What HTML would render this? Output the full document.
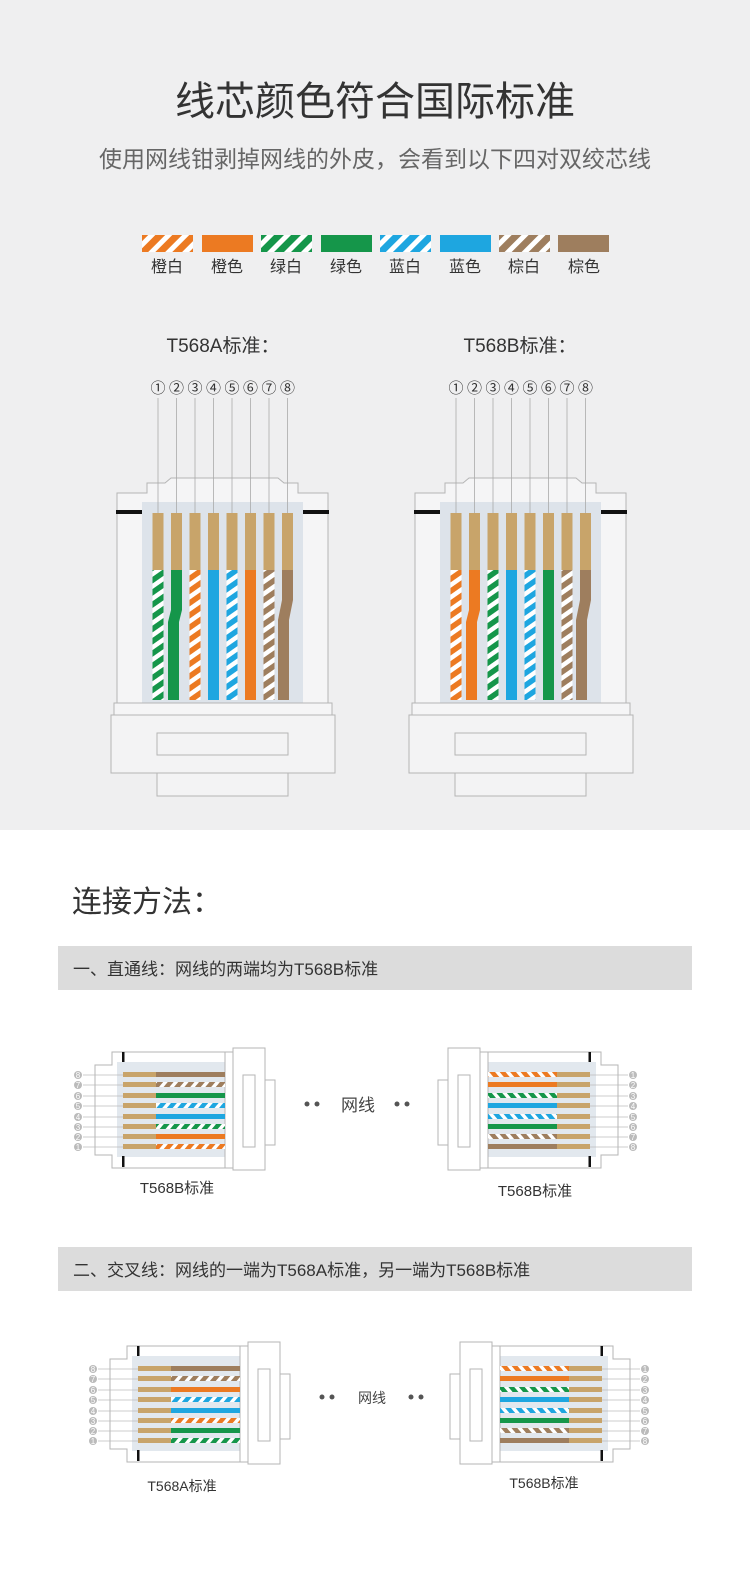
<!DOCTYPE html>
<html><head><meta charset="utf-8"><style>
body{margin:0;width:750px;height:1569px;background:#fff;font-family:"Liberation Sans","Noto Sans CJK SC",sans-serif;overflow:hidden}
svg{display:block}
</style></head><body>
<svg width="750" height="1569" viewBox="0 0 750 1569" xmlns="http://www.w3.org/2000/svg" font-family="Liberation Sans, Noto Sans CJK SC, sans-serif">
<defs>
<pattern id="pO" width="8" height="8" patternUnits="userSpaceOnUse" patternTransform="rotate(40)"><rect width="8" height="8" fill="#fff"/><rect width="4.5" height="8" fill="#ec7a22"/></pattern>
<pattern id="pG" width="8" height="8" patternUnits="userSpaceOnUse" patternTransform="rotate(40)"><rect width="8" height="8" fill="#fff"/><rect width="4.5" height="8" fill="#15964a"/></pattern>
<pattern id="pB" width="8" height="8" patternUnits="userSpaceOnUse" patternTransform="rotate(40)"><rect width="8" height="8" fill="#fff"/><rect width="4.5" height="8" fill="#1ea6e0"/></pattern>
<pattern id="pR" width="8" height="8" patternUnits="userSpaceOnUse" patternTransform="rotate(40)"><rect width="8" height="8" fill="#fff"/><rect width="4.5" height="8" fill="#9e7e5e"/></pattern>
<pattern id="vO" width="10" height="10" patternUnits="userSpaceOnUse" patternTransform="rotate(55)"><rect width="10" height="10" fill="#fff"/><rect width="5.5" height="10" fill="#ec7a22"/></pattern>
<pattern id="vG" width="10" height="10" patternUnits="userSpaceOnUse" patternTransform="rotate(55)"><rect width="10" height="10" fill="#fff"/><rect width="5.5" height="10" fill="#15964a"/></pattern>
<pattern id="vB" width="10" height="10" patternUnits="userSpaceOnUse" patternTransform="rotate(55)"><rect width="10" height="10" fill="#fff"/><rect width="5.5" height="10" fill="#1ea6e0"/></pattern>
<pattern id="vR" width="10" height="10" patternUnits="userSpaceOnUse" patternTransform="rotate(55)"><rect width="10" height="10" fill="#fff"/><rect width="5.5" height="10" fill="#9e7e5e"/></pattern>
<pattern id="lO" width="12" height="12" patternUnits="userSpaceOnUse" patternTransform="rotate(45)"><rect width="12" height="12" fill="#fff"/><rect width="7" height="12" fill="#ec7a22"/></pattern>
<pattern id="lG" width="12" height="12" patternUnits="userSpaceOnUse" patternTransform="rotate(45)"><rect width="12" height="12" fill="#fff"/><rect width="7" height="12" fill="#15964a"/></pattern>
<pattern id="lB" width="12" height="12" patternUnits="userSpaceOnUse" patternTransform="rotate(45)"><rect width="12" height="12" fill="#fff"/><rect width="7" height="12" fill="#1ea6e0"/></pattern>
<pattern id="lR" width="12" height="12" patternUnits="userSpaceOnUse" patternTransform="rotate(45)"><rect width="12" height="12" fill="#fff"/><rect width="7" height="12" fill="#9e7e5e"/></pattern>
<g id="big">
<path d="M6,493 H36 V483 H54 L60,478 H167 L173,483 H187 V493 H217 V705 H6 Z" fill="#f5f5f6" stroke="#b5b5b5" stroke-width="1"/>
<rect x="31" y="502" width="161" height="203" fill="#dde3ea"/>
<rect x="5" y="510" width="26" height="4" fill="#111"/>
<rect x="192" y="510" width="26" height="4" fill="#111"/>
<rect x="3" y="703" width="218" height="12" fill="#f5f5f6" stroke="#b5b5b5"/>
<rect x="0" y="715" width="224" height="58" fill="#f3f3f4" stroke="#b5b5b5"/>
<rect x="46" y="733" width="131" height="22" fill="#f3f3f4" stroke="#b5b5b5"/>
<rect x="46" y="773" width="131" height="23" fill="#f3f3f4" stroke="#b5b5b5"/>
</g>
<g id="small">
<path d="M112,1052 H225 V1168 H112 V1155 H95 V1065 H112 Z" fill="#fff" stroke="#b5b5b5"/>
<rect x="117" y="1062" width="108" height="95" fill="#e2e8ee"/>
<rect x="122" y="1052" width="2.5" height="10" fill="#111"/>
<rect x="122" y="1156" width="2.5" height="11" fill="#111"/>
<rect x="225" y="1052" width="8" height="116" fill="#fff" stroke="#b5b5b5"/>
<rect x="233" y="1048" width="32" height="122" fill="#fff" stroke="#b5b5b5"/>
<rect x="243" y="1075" width="12" height="72" fill="#fff" stroke="#b5b5b5"/>
<rect x="265" y="1080" width="10" height="65" fill="#fff" stroke="#b5b5b5"/>
<g fill="#c8a46a"><rect x="123" y="1072" width="33" height="5"/><rect x="123" y="1082" width="33" height="5"/><rect x="123" y="1093" width="33" height="5"/><rect x="123" y="1103" width="33" height="5"/><rect x="123" y="1114" width="33" height="5"/><rect x="123" y="1124" width="33" height="5"/><rect x="123" y="1134" width="33" height="5"/><rect x="123" y="1144" width="33" height="5"/></g>
</g>
</defs>

<rect x="0" y="0" width="750" height="830" fill="#efeff0"/>
<text x="375" y="115" font-size="40" text-anchor="middle" fill="#333">线芯颜色符合国际标准</text>
<text x="375" y="167" font-size="23" text-anchor="middle" fill="#666">使用网线钳剥掉网线的外皮，会看到以下四对双绞芯线</text>

<g>
<rect x="142" y="235" width="51" height="17" fill="url(#lO)"/>
<rect x="202" y="235" width="51" height="17" fill="#ec7a22"/>
<rect x="261" y="235" width="51" height="17" fill="url(#lG)"/>
<rect x="321" y="235" width="51" height="17" fill="#15964a"/>
<rect x="380" y="235" width="51" height="17" fill="url(#lB)"/>
<rect x="440" y="235" width="51" height="17" fill="#1ea6e0"/>
<rect x="499" y="235" width="51" height="17" fill="url(#lR)"/>
<rect x="558" y="235" width="51" height="17" fill="#9e7e5e"/>
</g>
<g font-size="16" fill="#333" text-anchor="middle">
<text x="167" y="272">橙白</text><text x="227" y="272">橙色</text><text x="286" y="272">绿白</text><text x="346" y="272">绿色</text><text x="405" y="272">蓝白</text><text x="465" y="272">蓝色</text><text x="524" y="272">棕白</text><text x="584" y="272">棕色</text>
</g>

<text x="223" y="352" font-size="19" text-anchor="middle" fill="#333">T568A标准：</text>
<text x="520" y="352" font-size="19" text-anchor="middle" fill="#333">T568B标准：</text>

<use href="#big" transform="translate(111,0)"/>
<use href="#big" transform="translate(409,0)"/>
<g font-size="15" fill="#333" text-anchor="middle">
<text x="158" y="393">①</text><text x="176.5" y="393">②</text><text x="195" y="393">③</text><text x="213.5" y="393">④</text><text x="232" y="393">⑤</text><text x="250.5" y="393">⑥</text><text x="269" y="393">⑦</text><text x="287.5" y="393">⑧</text>
<text x="456" y="393">①</text><text x="474.5" y="393">②</text><text x="493" y="393">③</text><text x="511.5" y="393">④</text><text x="530" y="393">⑤</text><text x="548.5" y="393">⑥</text><text x="567" y="393">⑦</text><text x="585.5" y="393">⑧</text>
</g>
<g stroke="#aaa" stroke-width="0.8">
<line x1="158" y1="398" x2="158" y2="513"/><line x1="176.5" y1="398" x2="176.5" y2="513"/><line x1="195" y1="398" x2="195" y2="513"/><line x1="213.5" y1="398" x2="213.5" y2="513"/><line x1="232" y1="398" x2="232" y2="513"/><line x1="250.5" y1="398" x2="250.5" y2="513"/><line x1="269" y1="398" x2="269" y2="513"/><line x1="287.5" y1="398" x2="287.5" y2="513"/>
<line x1="456" y1="398" x2="456" y2="513"/><line x1="474.5" y1="398" x2="474.5" y2="513"/><line x1="493" y1="398" x2="493" y2="513"/><line x1="511.5" y1="398" x2="511.5" y2="513"/><line x1="530" y1="398" x2="530" y2="513"/><line x1="548.5" y1="398" x2="548.5" y2="513"/><line x1="567" y1="398" x2="567" y2="513"/><line x1="585.5" y1="398" x2="585.5" y2="513"/>
</g>
<g fill="#c8a46a">
<rect x="152.5" y="513" width="11" height="57"/><rect x="171" y="513" width="11" height="57"/><rect x="189.5" y="513" width="11" height="57"/><rect x="208" y="513" width="11" height="57"/><rect x="226.5" y="513" width="11" height="57"/><rect x="245" y="513" width="11" height="57"/><rect x="263.5" y="513" width="11" height="57"/><rect x="282" y="513" width="11" height="57"/>
<rect x="450.5" y="513" width="11" height="57"/><rect x="469" y="513" width="11" height="57"/><rect x="487.5" y="513" width="11" height="57"/><rect x="506" y="513" width="11" height="57"/><rect x="524.5" y="513" width="11" height="57"/><rect x="543" y="513" width="11" height="57"/><rect x="561.5" y="513" width="11" height="57"/><rect x="580" y="513" width="11" height="57"/>
</g>
<g>
<rect x="152.5" y="570" width="11" height="130" fill="url(#vG)"/>
<path d="M171,570 h11 v40 l-3,12 v78 h-11 v-78 l3,-12 Z" fill="#15964a"/>
<rect x="189.5" y="570" width="11" height="130" fill="url(#vO)"/>
<rect x="208" y="570" width="11" height="130" fill="#1ea6e0"/>
<rect x="226.5" y="570" width="11" height="130" fill="url(#vB)"/>
<rect x="245" y="570" width="11" height="130" fill="#ec7a22"/>
<rect x="263.5" y="570" width="11" height="130" fill="url(#vR)"/>
<path d="M282,570 h11 v30 l-4,20 v80 h-11 v-80 l4,-20 Z" fill="#9e7e5e"/>

<rect x="450.5" y="570" width="11" height="130" fill="url(#vO)"/>
<path d="M469,570 h11 v40 l-3,12 v78 h-11 v-78 l3,-12 Z" fill="#ec7a22"/>
<rect x="487.5" y="570" width="11" height="130" fill="url(#vG)"/>
<rect x="506" y="570" width="11" height="130" fill="#1ea6e0"/>
<rect x="524.5" y="570" width="11" height="130" fill="url(#vB)"/>
<rect x="543" y="570" width="11" height="130" fill="#15964a"/>
<rect x="561.5" y="570" width="11" height="130" fill="url(#vR)"/>
<path d="M580,570 h11 v30 l-4,20 v80 h-11 v-80 l4,-20 Z" fill="#9e7e5e"/>
</g>

<text x="72" y="912" font-size="30" fill="#333">连接方法：</text>
<rect x="58" y="946" width="634" height="44" fill="#dcdcdc"/>
<text x="73" y="975" font-size="17" fill="#333">一、直通线：网线的两端均为T568B标准</text>
<rect x="58" y="1247" width="634" height="44" fill="#dcdcdc"/>
<text x="73" y="1276" font-size="17" fill="#333">二、交叉线：网线的一端为T568A标准，另一端为T568B标准</text>

<g>
<use href="#small"/>
<rect x="156" y="1072" width="69" height="5" fill="#9e7e5e"/>
<rect x="156" y="1082" width="69" height="5" fill="url(#pR)"/>
<rect x="156" y="1093" width="69" height="5" fill="#15964a"/>
<rect x="156" y="1103" width="69" height="5" fill="url(#pB)"/>
<rect x="156" y="1114" width="69" height="5" fill="#1ea6e0"/>
<rect x="156" y="1124" width="69" height="5" fill="url(#pG)"/>
<rect x="156" y="1134" width="69" height="5" fill="#ec7a22"/>
<rect x="156" y="1144" width="69" height="5" fill="url(#pO)"/>
</g>
<g transform="translate(713,0) scale(-1,1)">
<use href="#small"/>
<rect x="156" y="1072" width="69" height="5" fill="url(#pO)"/>
<rect x="156" y="1082" width="69" height="5" fill="#ec7a22"/>
<rect x="156" y="1093" width="69" height="5" fill="url(#pG)"/>
<rect x="156" y="1103" width="69" height="5" fill="#1ea6e0"/>
<rect x="156" y="1114" width="69" height="5" fill="url(#pB)"/>
<rect x="156" y="1124" width="69" height="5" fill="#15964a"/>
<rect x="156" y="1134" width="69" height="5" fill="url(#pR)"/>
<rect x="156" y="1144" width="69" height="5" fill="#9e7e5e"/>
</g>
<g transform="translate(15,294)">
<use href="#small"/>
<rect x="156" y="1072" width="69" height="5" fill="#9e7e5e"/>
<rect x="156" y="1082" width="69" height="5" fill="url(#pR)"/>
<rect x="156" y="1093" width="69" height="5" fill="#ec7a22"/>
<rect x="156" y="1103" width="69" height="5" fill="url(#pB)"/>
<rect x="156" y="1114" width="69" height="5" fill="#1ea6e0"/>
<rect x="156" y="1124" width="69" height="5" fill="url(#pO)"/>
<rect x="156" y="1134" width="69" height="5" fill="#15964a"/>
<rect x="156" y="1144" width="69" height="5" fill="url(#pG)"/>
</g>
<g transform="translate(725,294) scale(-1,1)">
<use href="#small"/>
<rect x="156" y="1072" width="69" height="5" fill="url(#pO)"/>
<rect x="156" y="1082" width="69" height="5" fill="#ec7a22"/>
<rect x="156" y="1093" width="69" height="5" fill="url(#pG)"/>
<rect x="156" y="1103" width="69" height="5" fill="#1ea6e0"/>
<rect x="156" y="1114" width="69" height="5" fill="url(#pB)"/>
<rect x="156" y="1124" width="69" height="5" fill="#15964a"/>
<rect x="156" y="1134" width="69" height="5" fill="url(#pR)"/>
<rect x="156" y="1144" width="69" height="5" fill="#9e7e5e"/>
</g>

<g font-size="8" fill="#fff" text-anchor="middle">
<g fill="#bbb">
<circle cx="78" cy="1075" r="4"/><circle cx="78" cy="1085" r="4"/><circle cx="78" cy="1096" r="4"/><circle cx="78" cy="1106" r="4"/><circle cx="78" cy="1117" r="4"/><circle cx="78" cy="1127" r="4"/><circle cx="78" cy="1137" r="4"/><circle cx="78" cy="1147" r="4"/>
<circle cx="633" cy="1075" r="4"/><circle cx="633" cy="1085" r="4"/><circle cx="633" cy="1096" r="4"/><circle cx="633" cy="1106" r="4"/><circle cx="633" cy="1117" r="4"/><circle cx="633" cy="1127" r="4"/><circle cx="633" cy="1137" r="4"/><circle cx="633" cy="1147" r="4"/>
<circle cx="93" cy="1369" r="4"/><circle cx="93" cy="1379" r="4"/><circle cx="93" cy="1390" r="4"/><circle cx="93" cy="1400" r="4"/><circle cx="93" cy="1411" r="4"/><circle cx="93" cy="1421" r="4"/><circle cx="93" cy="1431" r="4"/><circle cx="93" cy="1441" r="4"/>
<circle cx="645" cy="1369" r="4"/><circle cx="645" cy="1379" r="4"/><circle cx="645" cy="1390" r="4"/><circle cx="645" cy="1400" r="4"/><circle cx="645" cy="1411" r="4"/><circle cx="645" cy="1421" r="4"/><circle cx="645" cy="1431" r="4"/><circle cx="645" cy="1441" r="4"/>
</g>
<text x="78" y="1078">8</text><text x="78" y="1088">7</text><text x="78" y="1099">6</text><text x="78" y="1109">5</text><text x="78" y="1120">4</text><text x="78" y="1130">3</text><text x="78" y="1140">2</text><text x="78" y="1150">1</text>
<text x="633" y="1078">1</text><text x="633" y="1088">2</text><text x="633" y="1099">3</text><text x="633" y="1109">4</text><text x="633" y="1120">5</text><text x="633" y="1130">6</text><text x="633" y="1140">7</text><text x="633" y="1150">8</text>
<text x="93" y="1372">8</text><text x="93" y="1382">7</text><text x="93" y="1393">6</text><text x="93" y="1403">5</text><text x="93" y="1414">4</text><text x="93" y="1424">3</text><text x="93" y="1434">2</text><text x="93" y="1444">1</text>
<text x="645" y="1372">1</text><text x="645" y="1382">2</text><text x="645" y="1393">3</text><text x="645" y="1403">4</text><text x="645" y="1414">5</text><text x="645" y="1424">6</text><text x="645" y="1434">7</text><text x="645" y="1444">8</text>
</g>
<g stroke="#bbb" stroke-width="0.7">
<line x1="83" y1="1075" x2="123" y2="1075"/><line x1="83" y1="1085" x2="123" y2="1085"/><line x1="83" y1="1096" x2="123" y2="1096"/><line x1="83" y1="1106" x2="123" y2="1106"/><line x1="83" y1="1117" x2="123" y2="1117"/><line x1="83" y1="1127" x2="123" y2="1127"/><line x1="83" y1="1137" x2="123" y2="1137"/><line x1="83" y1="1147" x2="123" y2="1147"/>
<line x1="590" y1="1075" x2="628" y2="1075"/><line x1="590" y1="1085" x2="628" y2="1085"/><line x1="590" y1="1096" x2="628" y2="1096"/><line x1="590" y1="1106" x2="628" y2="1106"/><line x1="590" y1="1117" x2="628" y2="1117"/><line x1="590" y1="1127" x2="628" y2="1127"/><line x1="590" y1="1137" x2="628" y2="1137"/><line x1="590" y1="1147" x2="628" y2="1147"/>
<line x1="98" y1="1369" x2="138" y2="1369"/><line x1="98" y1="1379" x2="138" y2="1379"/><line x1="98" y1="1390" x2="138" y2="1390"/><line x1="98" y1="1400" x2="138" y2="1400"/><line x1="98" y1="1411" x2="138" y2="1411"/><line x1="98" y1="1421" x2="138" y2="1421"/><line x1="98" y1="1431" x2="138" y2="1431"/><line x1="98" y1="1441" x2="138" y2="1441"/>
<line x1="602" y1="1369" x2="640" y2="1369"/><line x1="602" y1="1379" x2="640" y2="1379"/><line x1="602" y1="1390" x2="640" y2="1390"/><line x1="602" y1="1400" x2="640" y2="1400"/><line x1="602" y1="1411" x2="640" y2="1411"/><line x1="602" y1="1421" x2="640" y2="1421"/><line x1="602" y1="1431" x2="640" y2="1431"/><line x1="602" y1="1441" x2="640" y2="1441"/>
</g>

<g fill="#555">
<circle cx="307" cy="1104" r="2.5"/><circle cx="317" cy="1104" r="2.5"/><circle cx="397" cy="1104" r="2.5"/><circle cx="407" cy="1104" r="2.5"/>
<circle cx="322" cy="1397" r="2.5"/><circle cx="332" cy="1397" r="2.5"/><circle cx="411" cy="1397" r="2.5"/><circle cx="421" cy="1397" r="2.5"/>
</g>
<text x="358" y="1111" font-size="17" fill="#444" text-anchor="middle">网线</text>
<text x="372" y="1403" font-size="14" fill="#444" text-anchor="middle">网线</text>

<text x="177" y="1193" font-size="15" fill="#333" text-anchor="middle">T568B标准</text>
<text x="535" y="1196" font-size="15" fill="#333" text-anchor="middle">T568B标准</text>
<text x="182" y="1491" font-size="14" fill="#333" text-anchor="middle">T568A标准</text>
<text x="544" y="1488" font-size="14" fill="#333" text-anchor="middle">T568B标准</text>
</svg>
</body></html>
